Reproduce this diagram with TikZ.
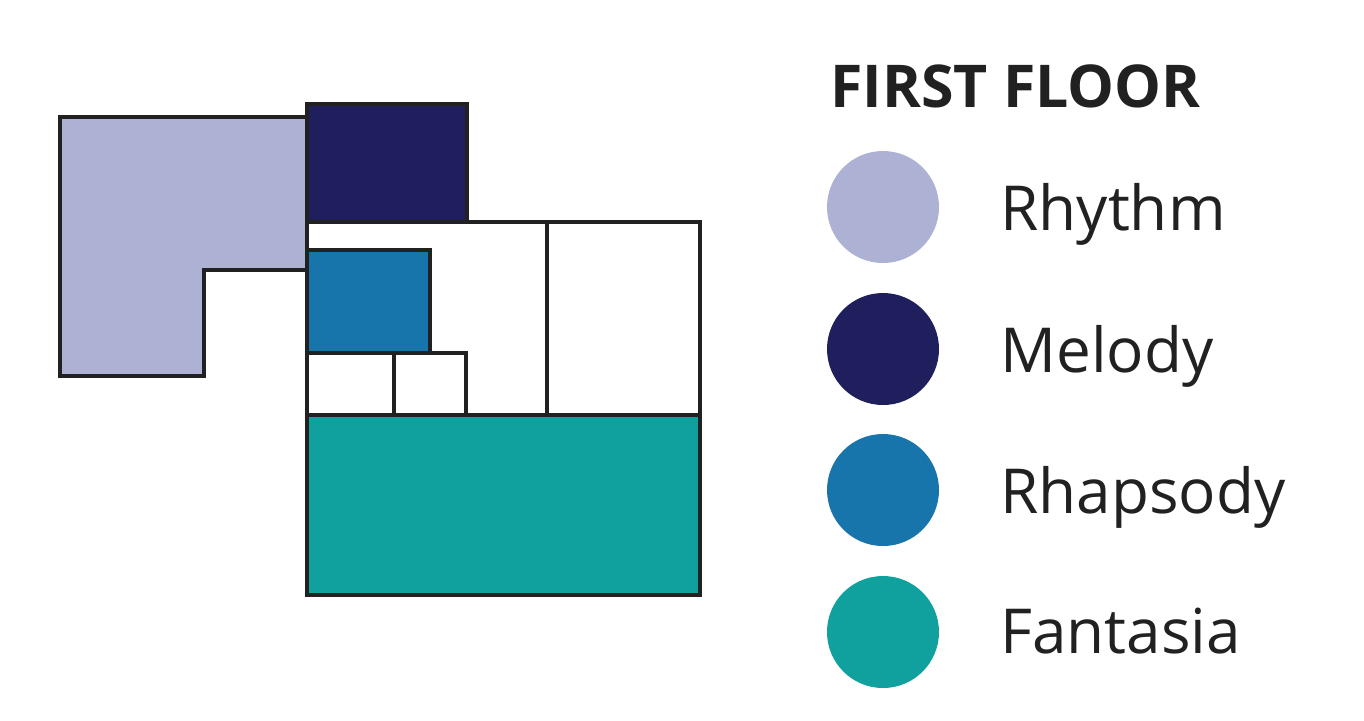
\documentclass[tikz,border=0pt]{standalone}
\usepackage{fontspec}
\setmainfont{Open Sans}
\begin{document}
\begin{tikzpicture}[x=0.5pt,y=-0.5pt,
  wall/.style={draw=black!87,line width=2pt,line join=miter},
  lbl/.style={anchor=base west,inner sep=0pt,font=\fontsize{31}{36}\selectfont,text=black!87},
  dot/.style={circle,minimum size=56pt,inner sep=0pt}]
\useasboundingbox (0,0) rectangle (1364,720);
\definecolor{rhythm}{HTML}{ADB1D3}
\definecolor{melody}{HTML}{1F1F5E}
\definecolor{rhap}{HTML}{1875AB}
\definecolor{fant}{HTML}{10A19E}
% plan
\draw[wall,fill=rhythm] (60,117) -- (307,117) -- (307,270) -- (204,270) -- (204,376) -- (60,376) -- cycle;
\draw[wall,fill=melody] (307,104) rectangle (467,222);
\draw[wall,fill=white] (307,222) rectangle (700,415);
\draw[wall] (547,222) -- (547,415);
\draw[wall,fill=rhap] (307,250) rectangle (430,353);
\draw[wall] (307,353) rectangle (394,415);
\draw[wall] (394,353) rectangle (466,415);
\draw[wall,fill=fant] (307,415) rectangle (700,595);
% legend
\node[anchor=base west,inner sep=0pt,font=\bfseries\fontsize{29.5}{34}\selectfont,text=black!87] (title) at (830,107) {FIRST FLOOR};
\node[dot,fill=rhythm] (c1) at (883,207) {};
\node[dot,fill=melody] (c2) at (883,349) {};
\node[dot,fill=rhap] (c3) at (883,490) {};
\node[dot,fill=fant] (c4) at (883,632) {};
\node[lbl] (l1) at (1000,230) {Rhythm};
\node[lbl] (l2) at (1000,372) {Melody};
\node[lbl] (l3) at (1000,513) {Rhapsody};
\node[lbl] (l4) at (1000,653) {Fantasia};
\end{tikzpicture}
\end{document}
